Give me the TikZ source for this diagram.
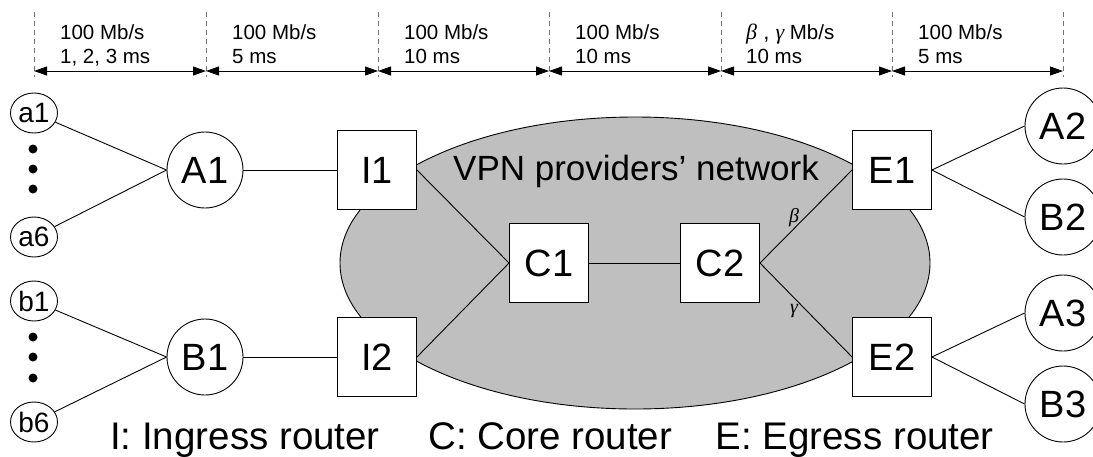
\documentclass[tikz,border=0pt]{standalone}
\usepackage{fontspec}
\setmainfont{Liberation Sans}
\newfontfamily\grkfont{Liberation Serif}
\usetikzlibrary{arrows.meta,shapes.geometric}
\newcommand\setfs[2]{\fontsize{#1}{#2}\selectfont}
\newcommand\gk[1]{{\grkfont\itshape #1}}
\tikzset{
  link/.style={draw, line width=0.9pt},
  dimline/.style={draw=black!55, line width=0.9pt, dash pattern=on 5pt off 4pt},
  dimarrow/.style={draw, line width=0.9pt, {Triangle[length=13pt,width=9pt]}-{Triangle[length=13pt,width=9pt]}},
  dimlabel/.style={anchor=north west, align=left, inner sep=0pt, font=\setfs{20.5pt}{24pt}},
  host/.style={ellipse, draw, line width=0.9pt, fill=white, minimum width=47pt, minimum height=40pt, inner sep=0pt, font=\setfs{28pt}{28pt}},
  site/.style={circle, draw, line width=0.9pt, fill=white, minimum size=76pt, inner sep=0pt, font=\setfs{38pt}{38pt}},
  router/.style={rectangle, draw, line width=0.9pt, fill=white, minimum size=79pt, inner sep=0pt, font=\setfs{38pt}{38pt}},
  dotmark/.style={circle, fill=black, minimum size=9pt, inner sep=0pt},
  cloud/.style={ellipse, draw, line width=0.9pt, fill=black!25, minimum width=590pt, minimum height=292pt, inner sep=0pt},
  legend/.style={anchor=base west, inner sep=0pt, font=\setfs{38.5pt}{38.5pt}},
  ratelabel/.style={inner sep=1pt, font=\setfs{20pt}{20pt}}
}
\begin{document}
\begin{tikzpicture}[x=1pt,y=-1pt]
\useasboundingbox (0,0) rectangle (1093,456);
\clip (0,0) rectangle (1093,456);

% dimension marks along the top
\foreach \i/\x in {0/34,1/206,2/378,3/549,4/721,5/892,6/1063}{
  \coordinate (t\i) at (\x,12);
  \coordinate (b\i) at (\x,77);
  \coordinate (m\i) at (\x,71);
  \draw[dimline] (t\i) -- (b\i);
}
\foreach \i/\j in {0/1,1/2,2/3,3/4,4/5,5/6}{
  \draw[dimarrow] (m\i) -- (m\j);
}
\node[dimlabel] (l0) at (60,24)  {100 Mb/s\\1, 2, 3 ms};
\node[dimlabel] (l1) at (232,24) {100 Mb/s\\5 ms};
\node[dimlabel] (l2) at (404,24) {100 Mb/s\\10 ms};
\node[dimlabel] (l3) at (575,24) {100 Mb/s\\10 ms};
\node[dimlabel] (l4) at (746,24) {{\setfs{22pt}{24pt}\gk{β} , \gk{γ}} Mb/s\\10 ms};
\node[dimlabel] (l5) at (918,24) {100 Mb/s\\5 ms};

% provider network
\node[cloud] (net) at (635,263) {};
\node[anchor=base, inner sep=0pt, font=\setfs{35pt}{35pt}] (nettext) at (636,180) {VPN providers' network};

% hosts
\node[host] (a1) at (34,113) {a1};
\node[host] (a6) at (34,237) {a6};
\node[host] (b1) at (34,301) {b1};
\node[host] (b6) at (34,422) {b6};
\foreach \y [count=\k] in {149,169,189}{\node[dotmark] (ad\k) at (33,\y) {};}
\foreach \y [count=\k] in {337,357,378}{\node[dotmark] (bd\k) at (33,\y) {};}

% sites and routers
\node[site] (A1) at (205,170) {A1};
\node[site] (B1) at (205,357) {B1};
\node[router] (I1) at (377,170) {I1};
\node[router] (I2) at (377,357) {I2};
\node[router] (C1) at (549,263) {C1};
\node[router] (C2) at (720,263) {C2};
\node[router] (E1) at (892,170) {E1};
\node[router] (E2) at (892,357) {E2};
\node[site] (A2) at (1063,126) {A2};
\node[site] (B2) at (1063,217) {B2};
\node[site] (A3) at (1063,313) {A3};
\node[site] (B3) at (1063,404) {B3};

% links
\draw[link] (a1) -- (A1.west);
\draw[link] (a6) -- (A1.west);
\draw[link] (b1) -- (B1.west);
\draw[link] (b6) -- (B1.west);
\draw[link] (A1) -- (I1);
\draw[link] (B1) -- (I2);
\draw[link] (I1.east) -- (C1.west);
\draw[link] (I2.east) -- (C1.west);
\draw[link] (C1) -- (C2);
\draw[link] (C2.east) -- node[ratelabel, pos=0.37, above] (beta) {\gk{β}} (E1.west);
\draw[link] (C2.east) -- node[ratelabel, pos=0.37, below=5pt] (gamma) {\gk{γ}} (E2.west);
\draw[link] (E1.east) -- (A2.west);
\draw[link] (E1.east) -- (B2.west);
\draw[link] (E2.east) -- (A3.west);
\draw[link] (E2.east) -- (B3.west);

% legend
\node[legend] (legI) at (110,449) {I: Ingress router};
\node[legend] (legC) at (428,449) {C: Core router};
\node[legend, anchor=base east] (legE) at (994,449) {E: Egress router};
\end{tikzpicture}
\end{document}
